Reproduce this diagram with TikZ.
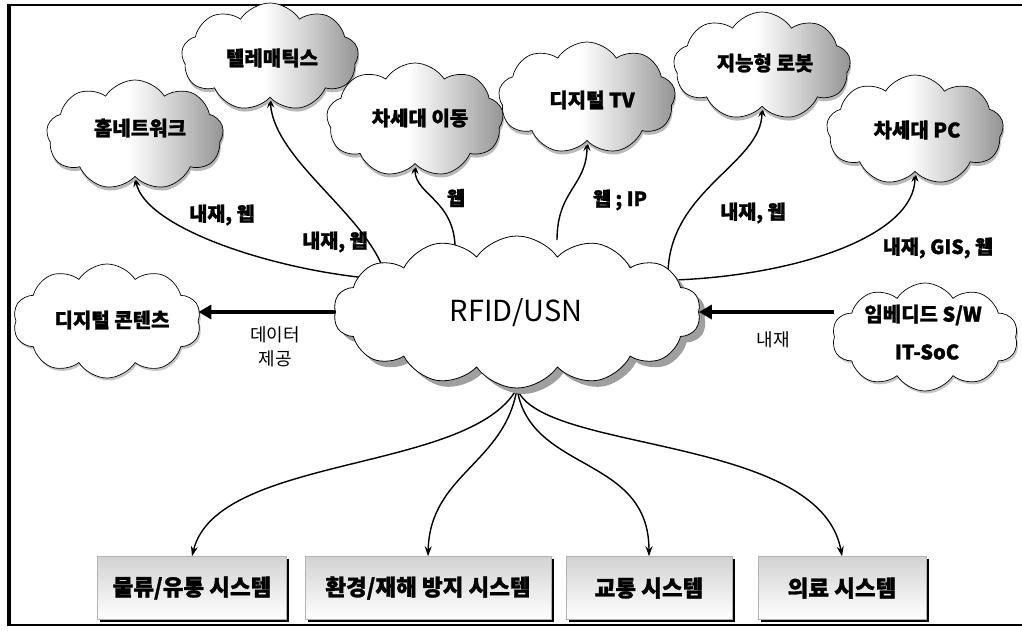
\documentclass[tikz,border=0pt]{standalone}
\usepackage{fontspec}
\setmainfont{Noto Sans CJK KR}[BoldFeatures={FakeBold=1.3}]
\usetikzlibrary{shapes.symbols,shadows,arrows.meta,calc}
\pgfdeclarelayer{bg}
\pgfsetlayers{bg,main}
\pgfdeclarehorizontalshading{cloudsh}{100bp}{color(0bp)=(white); color(48bp)=(white); color(60bp)=(gray!35); color(75bp)=(gray!85); color(100bp)=(gray!85)}
\begin{document}
\begin{tikzpicture}[x=1pt,y=-1pt,
  topcloud/.style={cloud, cloud puffs=9, cloud puff arc=115, cloud ignores aspect, draw=black, line width=0.7pt, shading=cloudsh, drop shadow={shadow xshift=1pt, shadow yshift=-3.5pt, fill=gray!55, opacity=1}, inner sep=0pt, minimum width=177pt},
  sidecloud/.style={cloud, cloud puffs=10, cloud puff arc=115, cloud ignores aspect, draw=black, line width=0.7pt, fill=white, drop shadow={shadow xshift=1.5pt, shadow yshift=-2.5pt, fill=gray!45, opacity=1}, inner sep=0pt},
  maincloud/.style={cloud, cloud puffs=14, cloud puff arc=110, cloud ignores aspect, draw=black, line width=0.8pt, fill=white, drop shadow={shadow xshift=6pt, shadow yshift=-6pt, fill=gray!75, opacity=1}, inner sep=0pt},
  ctext/.style={font=\bfseries\fontsize{20}{22}\selectfont, inner sep=0pt},
  lbl/.style={font=\bfseries\fontsize{19.5}{21}\selectfont, inner sep=0pt},
  plain/.style={font=\fontsize{18}{24}\selectfont, inner sep=0pt, align=center},
  sysbox/.style={draw=gray!60, line width=0.5pt, top color=gray!35, bottom color=white, drop shadow={shadow xshift=2.5pt, shadow yshift=-2.5pt, fill=black, opacity=1}, minimum height=63pt, inner sep=0pt, font=\bfseries\fontsize{22.5}{24}\selectfont},
  conn/.style={line width=1.4pt, -{Stealth[length=10pt,width=7pt]}},
  bigarrow/.style={line width=4.5pt, -{Triangle[length=13pt,width=14pt]}}
]
\useasboundingbox (0,0) rectangle (1022,630);
\draw[line width=2.5pt] (1022,5) -- (9,5);
\draw[line width=2.5pt] (9,625) -- (1022,625);
\draw[line width=4pt] (9,4) -- (9,626);

% clouds
\node[topcloud, minimum height=110pt] (home) at (135,135) {};
\node[ctext] (homet) at (140,128) {홈네트워크};
\node[topcloud, minimum height=108pt] (tele) at (270,57) {};
\node[ctext] (telet) at (272,58) {텔레매틱스};
\node[topcloud, minimum height=114pt] (mob) at (415,120) {};
\node[ctext] (mobt) at (420,118) {차세대 이동};
\node[topcloud, minimum height=112pt] (dtv) at (587,98) {};
\node[ctext] (dtvt) at (592,100) {디지털 TV};
\node[topcloud, minimum height=108pt] (robot) at (762,66) {};
\node[ctext] (robott) at (765,63) {지능형 로봇};
\node[topcloud, minimum height=110pt] (pc) at (915,130) {};
\node[ctext] (pct) at (917,130) {차세대 PC};

\node[sidecloud, minimum width=188pt, minimum height=114pt] (dc) at (107,321) {};
\node[ctext] (dct) at (112,320) {디지털 콘텐츠};
\node[sidecloud, minimum width=186pt, minimum height=108pt] (emb) at (925,337) {};
\node[ctext] (embt1) at (923,315) {임베디드 S/W};
\node[ctext] (embt2) at (927,352) {IT-SoC};

\node[maincloud, minimum width=367pt, minimum height=152pt] (rfid) at (517,312) {};
\node[font=\fontsize{29}{31}\selectfont, inner sep=0pt] (rfidt) at (516,313) {RFID/USN};

% system boxes
\node[sysbox, minimum width=189pt] (b1) at (192,588) {물류/유통 시스템};
\node[sysbox, minimum width=246pt] (b2) at (428,588) {환경/재해 방지 시스템};
\node[sysbox, minimum width=166pt] (b3) at (649,588) {교통 시스템};
\node[sysbox, minimum width=168pt] (b4) at (842,588) {의료 시스템};

% connectors (behind the central cloud)
\begin{pgfonlayer}{bg}
\draw[conn] ($(rfid.center)+(-150,-34)$) .. controls +(-100,-10) and +(10,50) .. (home.south);
\draw[conn] ($(rfid.center)+(-129,-25)$) .. controls +(-8,-65) and +(5,67) .. (tele.south);
\draw[conn] ($(rfid.center)+(-62,-57)$) .. controls +(3,-55) and +(0,32) .. (mob.south);
\draw[conn] ($(rfid.center)+(40,-72)$) .. controls +(0,-50) and +(0,45) .. (dtv.south);
\draw[conn] ($(rfid.center)+(151,-37)$) .. controls +(0,-85) and +(0,57) .. (robot.south);
\draw[conn] ($(rfid.center)+(158,-32)$) .. controls +(125,-5) and +(0,63) .. (pc.south);
\draw[conn] (rfid.south) .. controls +(-47,85) and +(25,-102) .. (b1.north);
\draw[conn] (rfid.south) .. controls +(-12,75) and +(2,-82) .. (b2.north);
\draw[conn] (rfid.south) .. controls +(13,85) and +(0,-102) .. (b3.north);
\draw[conn] (rfid.south) .. controls +(23,65) and +(-22,-122) .. (b4.north);
\end{pgfonlayer}

\draw[bigarrow] (rfid.west) -- (dc.east |- rfid.west);
\draw[bigarrow] (emb.west |- rfid.east) -- (rfid.east);

% labels
\node[lbl] (l1) at (222,215) {내재, 웹};
\node[lbl] (l2) at (335,242) {내재, 웹};
\node[lbl] (l3) at (456,198) {웹};
\node[lbl] (l4) at (620,200) {웹 ; IP};
\node[lbl] (l5) at (753,213) {내재, 웹};
\node[lbl] (l6) at (938,248) {내재, GIS, 웹};
\node[plain] (l7) at (275,347) {데이터\\제공};
\node[plain] (l8) at (773,340) {내재};
\end{tikzpicture}
\end{document}
